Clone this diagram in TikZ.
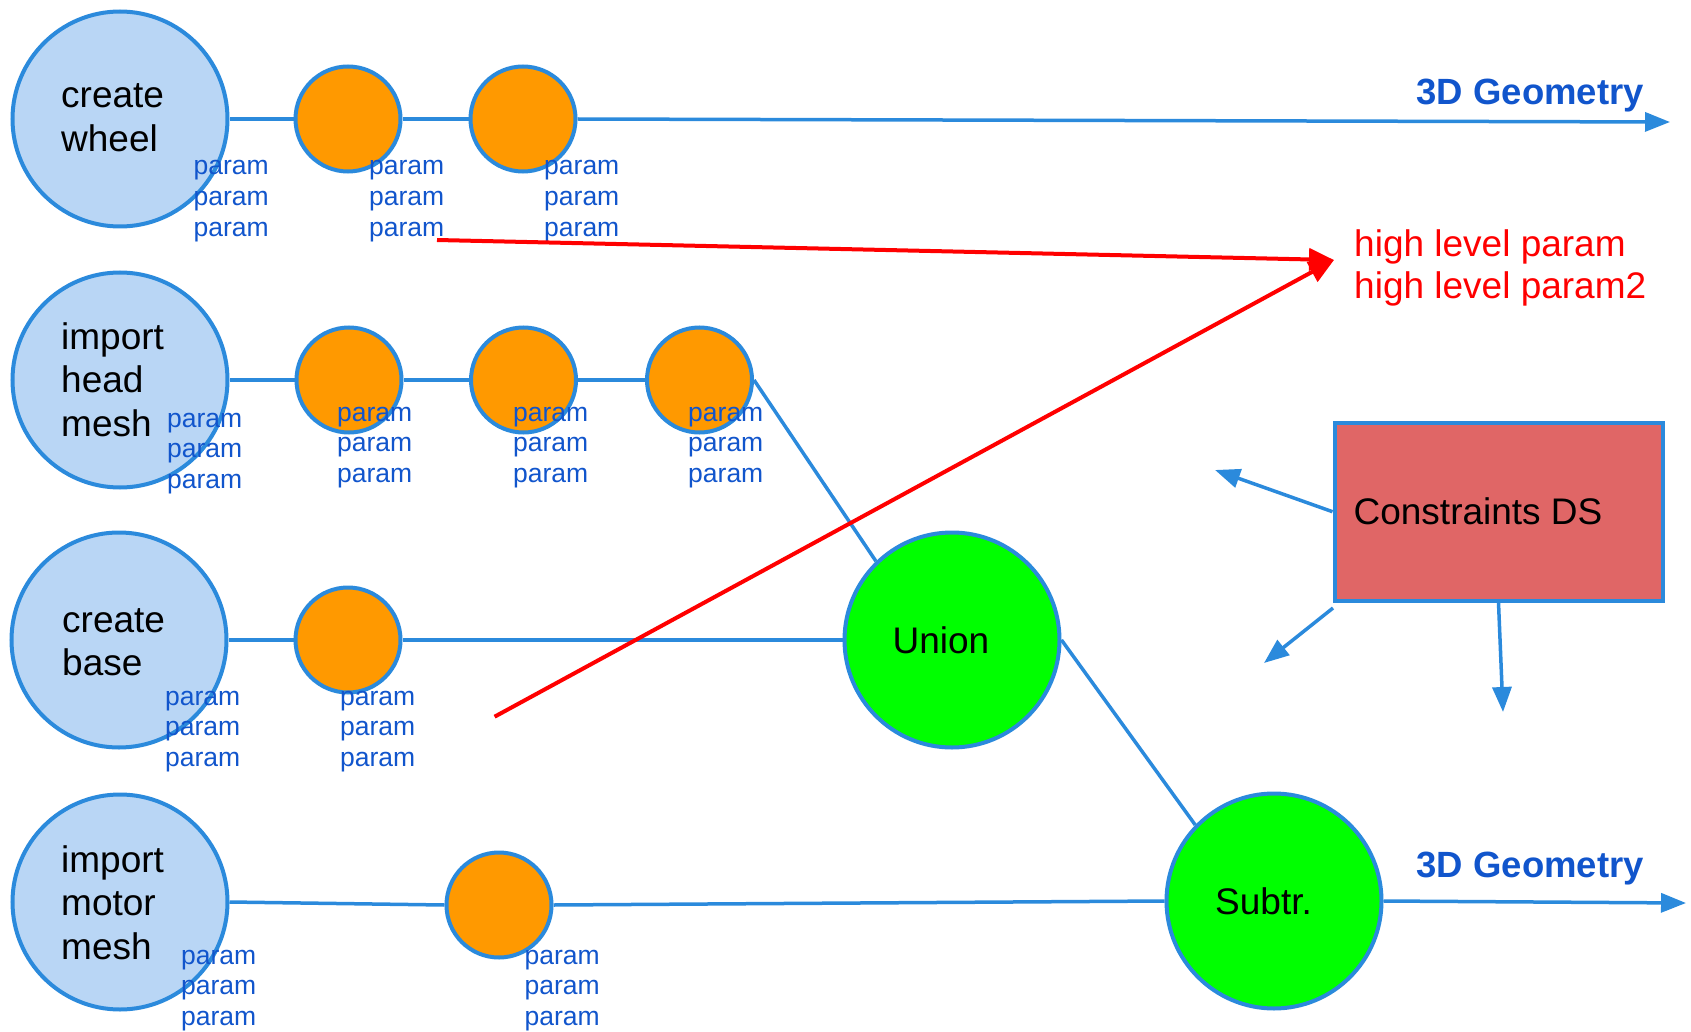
\documentclass[tikz,border=0pt]{standalone}
\usepackage{fontspec}
\setmainfont{Liberation Sans}
\usetikzlibrary{arrows.meta}
\definecolor{lineblue}{RGB}{43,138,220}
\definecolor{fillblue}{RGB}{185,214,245}
\definecolor{opfill}{RGB}{255,153,0}
\definecolor{boolfill}{RGB}{0,255,0}
\definecolor{parblue}{RGB}{17,85,204}
\definecolor{boxred}{RGB}{224,102,102}
\definecolor{hlred}{RGB}{255,0,0}
\newcommand{\mystack}[1]{\begin{tabular}[t]{@{}l@{}}#1\end{tabular}}
\begin{document}
\begin{tikzpicture}[x=1pt,y=-1pt,
  src/.style={circle,draw=lineblue,fill=fillblue,line width=4pt,minimum size=215pt,inner sep=0pt},
  op/.style={circle,draw=lineblue,fill=opfill,line width=4pt,minimum size=105pt,inner sep=0pt},
  bool/.style={circle,draw=lineblue,fill=boolfill,line width=4pt,minimum size=215pt,inner sep=0pt,
    font=\fontsize{37}{43}\selectfont},
  lbl/.style={anchor=base west,inner sep=0pt,font=\fontsize{37}{43.5}\selectfont},
  prm/.style={anchor=base west,inner sep=0pt,text=parblue,font=\fontsize{26.5}{30.7}\selectfont},
  conn/.style={draw=lineblue,line width=3.5pt},
  outarrow/.style={conn,-{Triangle[length=25pt,width=19pt]}},
  geo/.style={anchor=base east,inner sep=0pt,text=parblue,font=\fontsize{36.5}{40}\selectfont\bfseries},
  redarrow/.style={draw=hlred,line width=4pt,-{Triangle[length=25pt,width=22pt]}},
  hl/.style={anchor=base west,inner sep=0pt,text=hlred,font=\fontsize{37}{41.7}\selectfont},
  cbox/.style={rectangle,draw=lineblue,fill=boxred,line width=4pt,minimum width=328pt,minimum height=178pt,
    inner sep=0pt,font=\fontsize{37}{43}\selectfont}
]
\useasboundingbox (0,0) rectangle (1691,1032);

% source circles
\node[src] (cw) at (120,119) {};
\node[src] (hm) at (120,380) {};
\node[src] (cb) at (119,640) {};
\node[src] (mm) at (120,902) {};
\node[lbl] (cwt) at (61,108) {\mystack{create\\wheel}};
\node[lbl] (hmt) at (61,349) {\mystack{import\\head\\mesh}};
\node[lbl] (cbt) at (62,632) {\mystack{create\\base}};
\node[lbl] (mmt) at (61,872) {\mystack{import\\motor\\mesh}};

% operation circles
\node[op] (o11) at (348,119) {};
\node[op] (o12) at (523,119) {};
\node[op] (o21) at (349,380) {};
\node[op] (o22) at (523.5,380) {};
\node[op] (o23) at (699.5,380) {};
\node[op] (o31) at (348,640) {};
\node[op] (o41) at (499,905) {};

% boolean circles
\node[bool] (union) at (952,640) {Union\hspace*{22pt}};
\node[bool] (subtr) at (1274,901) {Subtr.\hspace*{21pt}};

% constraints box
\node[cbox] (cds) at (1498.5,511.7) {Constraints DS\hspace*{41pt}};

% coordinates
\coordinate (g1) at (1670,122);
\coordinate (g2) at (1686,903);
\coordinate (a1) at (1215,470);
\coordinate (c2s) at (1333,608);
\coordinate (a2) at (1264,663);
\coordinate (a3) at (1503,712);
\coordinate (r1s) at (437,240);
\coordinate (r2s) at (494.6,716.7);
\coordinate (rt) at (1334,260);

% connectors
\draw[conn] (cw.east) -- (o11.west);
\draw[conn] (o11.east) -- (o12.west);
\draw[outarrow] (o12.east) -- (g1);
\draw[conn] (hm.east) -- (o21.west);
\draw[conn] (o21.east) -- (o22.west);
\draw[conn] (o22.east) -- (o23.west);
\draw[conn] (o23.east) -- (union.134);
\draw[conn] (cb.east) -- (o31.west);
\draw[conn] (o31.east) -- (union.west);
\draw[conn] (mm.east) -- (o41.west);
\draw[conn] (o41.east) -- (subtr.west);
\draw[conn] (union.east) -- (subtr.136);
\draw[outarrow] (subtr.east) -- (g2);
\draw[outarrow] (cds.west) -- (a1);
\draw[outarrow] (c2s) -- (a2);
\draw[outarrow] (cds.south) -- (a3);

% params
\node[prm] (p11) at (193.5,175) {\mystack{param\\param\\param}};
\node[prm] (p12) at (369,175) {\mystack{param\\param\\param}};
\node[prm] (p13) at (544,175) {\mystack{param\\param\\param}};
\node[prm] (p21) at (167,427) {\mystack{param\\param\\param}};
\node[prm] (p22) at (337,421) {\mystack{param\\param\\param}};
\node[prm] (p23) at (513,421) {\mystack{param\\param\\param}};
\node[prm] (p24) at (688,421) {\mystack{param\\param\\param}};
\node[prm] (p31) at (165,705) {\mystack{param\\param\\param}};
\node[prm] (p32) at (340,705) {\mystack{param\\param\\param}};
\node[prm] (p41) at (181,964) {\mystack{param\\param\\param}};
\node[prm] (p42) at (524.5,964) {\mystack{param\\param\\param}};

% labels
\node[geo] (geo1) at (1644,105) {3D Geometry};
\node[geo] (geo2) at (1644,877) {3D Geometry};
\node[hl] (hlp) at (1354,257) {\mystack{high level param\\high level param2}};

% red arrows
\draw[redarrow] (r1s) -- (rt);
\draw[redarrow] (r2s) -- (rt);
\end{tikzpicture}
\end{document}
